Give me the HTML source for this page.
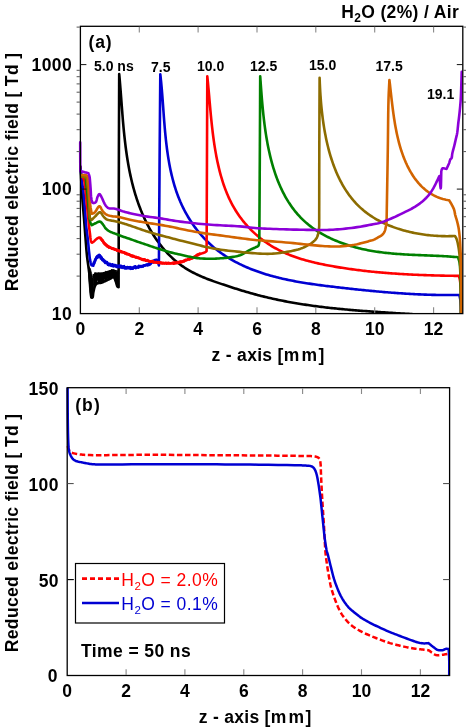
<!DOCTYPE html><html><head><meta charset="utf-8"><style>html,body{margin:0;padding:0;background:#fff;overflow:hidden}svg{display:block}text{font-family:"Liberation Sans",sans-serif;}</style></head><body>
<svg style="filter:blur(0.35px)" width="466" height="727" viewBox="0 0 466 727">
<rect width="466" height="727" fill="#fff"/>
<defs><clipPath id="ct"><rect x="77.4" y="26.3" width="385.4" height="287.3"/></clipPath><clipPath id="cb"><rect x="64.2" y="387.7" width="385.40000000000003" height="287.8"/></clipPath></defs>
<g clip-path="url(#ct)">
<path d="M80.50,166.50L80.66,169.59L80.83,172.70L80.99,175.80L81.16,178.89L81.32,181.96L81.50,185.00L81.67,187.88L81.84,190.73L82.02,193.56L82.20,196.38L82.40,199.19L82.60,202.00L82.82,204.75L83.04,207.47L83.28,210.18L83.52,212.91L83.76,215.67L84.00,218.50L84.25,221.66L84.50,224.91L84.75,228.20L85.00,231.50L85.25,234.78L85.50,238.00L85.74,241.08L85.98,244.19L86.22,247.28L86.46,250.30L86.72,253.22L87.00,256.00L87.25,258.17L87.52,260.27L87.80,262.31L88.08,264.27L88.35,266.17L88.60,268.00L88.79,269.42L88.96,270.76L89.13,272.05L89.30,273.33L89.45,274.64L89.60,276.00L89.75,277.56L89.89,279.16L90.02,280.78L90.14,282.43L90.27,284.10L90.40,285.80L90.55,287.69L90.70,289.62L90.85,291.59L91.00,293.56L91.15,295.54L91.30,297.50L91.49,297.53L91.68,297.59L91.88,297.65L92.06,297.68L92.24,297.67L92.40,297.60L92.68,297.14L92.86,296.35L92.99,295.33L93.10,294.19L93.22,293.05L93.40,292.00L93.64,290.89L93.90,289.71L94.18,288.51L94.48,287.37L94.82,286.34L95.20,285.50L95.44,285.08L95.68,284.71L95.94,284.38L96.22,284.10L96.53,283.84L96.90,283.60L97.48,283.35L98.16,283.19L98.91,283.08L99.69,282.99L100.46,282.87L101.20,282.70L101.92,282.47L102.64,282.20L103.36,281.92L104.08,281.62L104.79,281.31L105.50,281.00L106.22,280.67L106.95,280.32L107.67,279.96L108.39,279.59L109.10,279.24L109.80,278.90L110.46,278.54L111.14,278.11L111.82,277.69L112.47,277.35L113.07,277.16L113.60,277.20L114.09,277.54L114.50,278.14L114.86,278.92L115.18,279.79L115.49,280.68L115.80,281.50L116.11,282.38L116.38,283.35L116.64,284.34L116.90,285.26L117.18,286.04L117.50,286.60L117.67,286.77L117.85,286.89L118.04,286.98L118.23,287.04L118.41,287.11L118.60,287.20L118.65,263.87L118.70,239.98L118.74,216.09L118.79,192.75L118.84,170.54L118.90,150.00L118.95,136.04L119.00,123.02L119.05,110.61L119.10,98.51L119.15,86.41L119.20,74.00L119.33,75.46L119.47,76.93L119.60,78.39L119.72,79.86L119.85,81.34L119.97,82.81L120.10,84.29L120.22,85.77L120.33,87.25L120.45,88.73L120.57,90.22L120.68,91.71L120.80,93.20L120.91,94.69L121.02,96.18L121.14,97.68L121.25,99.18L121.36,100.68L121.48,102.18L121.59,103.68L121.70,105.18L121.82,106.68L121.93,108.19L122.05,109.70L122.17,111.20L122.29,112.71L122.40,114.22L122.53,115.73L122.65,117.24L122.77,118.75L122.90,120.27L123.03,121.78L123.16,123.29L123.30,124.80L123.43,126.32L123.57,127.83L123.72,129.34L123.86,130.86L124.01,132.37L124.17,133.88L124.32,135.39L124.48,136.91L124.65,138.42L124.82,139.93L124.99,141.44L125.17,142.95L125.35,144.46L125.54,145.97L125.73,147.48L125.93,148.99L126.13,150.49L126.34,152.00L126.55,153.50L126.77,155.00L126.99,156.50L127.23,158.00L127.46,159.50L127.71,161.00L127.96,162.49L128.21,163.99L128.48,165.48L128.75,166.97L129.03,168.45L129.31,169.94L129.61,171.42L129.91,172.90L130.22,174.38L130.53,175.86L130.86,177.33L131.19,178.80L131.53,180.27L131.88,181.74L132.24,183.20L132.61,184.66L132.99,186.12L133.37,187.57L133.77,189.02L134.17,190.47L134.59,191.92L135.02,193.36L135.45,194.80L135.90,196.23L136.35,197.66L136.82,199.09L137.30,200.52L137.78,201.94L138.28,203.35L138.79,204.77L139.32,206.17L139.85,207.58L140.39,208.98L140.95,210.37L141.52,211.77L142.10,213.15L142.70,214.53L143.30,215.91L143.92,217.28L144.55,218.65L145.19,220.01L145.85,221.36L146.51,222.70L147.19,224.04L147.89,225.37L148.59,226.70L149.31,228.01L150.04,229.32L150.79,230.62L151.55,231.91L152.32,233.19L153.10,234.46L153.90,235.72L154.71,236.97L155.54,238.21L156.37,239.44L157.23,240.66L158.09,241.87L158.97,243.07L159.86,244.25L160.77,245.42L161.69,246.58L162.63,247.73L163.58,248.86L164.54,249.98L165.52,251.09L166.51,252.18L167.52,253.26L168.54,254.33L169.58,255.37L170.63,256.41L171.69,257.43L172.77,258.43L173.87,259.41L174.98,260.38L176.10,261.34L177.24,262.27L178.40,263.19L179.57,264.09L180.75,264.97L181.95,265.84L183.17,266.68L184.40,267.51L185.65,268.32L186.91,269.11L188.19,269.88L189.49,270.63L190.80,271.36L192.12,272.07L193.45,272.77L194.80,273.45L196.16,274.12L197.53,274.77L198.91,275.40L200.30,276.02L201.70,276.63L203.11,277.23L204.52,277.81L205.94,278.39L207.37,278.95L208.81,279.50L210.25,280.04L211.70,280.58L213.14,281.10L214.60,281.62L216.05,282.13L217.51,282.64L218.97,283.14L220.43,283.63L221.89,284.12L223.35,284.60L224.81,285.09L226.27,285.57L227.72,286.04L229.18,286.52L230.63,286.99L232.08,287.46L233.53,287.92L234.98,288.39L236.42,288.85L237.87,289.30L239.31,289.75L240.76,290.20L242.20,290.64L243.65,291.08L245.09,291.51L246.54,291.94L247.98,292.36L249.42,292.78L250.87,293.19L252.32,293.59L253.76,293.99L255.21,294.38L256.66,294.77L258.11,295.15L259.56,295.53L261.01,295.90L262.46,296.26L263.91,296.62L265.37,296.97L266.82,297.32L268.28,297.66L269.73,298.00L271.19,298.33L272.65,298.66L274.11,298.98L275.57,299.30L277.03,299.61L278.49,299.92L279.95,300.22L281.41,300.52L282.88,300.81L284.35,301.10L285.81,301.38L287.28,301.66L288.75,301.93L290.22,302.20L291.69,302.46L293.16,302.72L294.63,302.98L296.11,303.23L297.58,303.47L299.06,303.72L300.54,303.95L302.02,304.19L303.50,304.42L304.98,304.64L306.46,304.87L307.95,305.08L309.43,305.30L310.92,305.51L312.40,305.72L313.89,305.92L315.38,306.12L316.87,306.31L318.36,306.51L319.85,306.69L321.34,306.88L322.84,307.06L324.33,307.24L325.82,307.42L327.32,307.59L328.82,307.76L330.31,307.93L331.81,308.09L333.31,308.25L334.81,308.41L336.31,308.56L337.81,308.71L339.31,308.86L340.81,309.01L342.31,309.16L343.81,309.30L345.32,309.44L346.82,309.58L348.33,309.71L349.83,309.84L351.33,309.97L352.84,310.10L354.35,310.23L355.85,310.35L357.36,310.48L358.86,310.60L360.37,310.72L361.88,310.83L363.38,310.95L364.89,311.06L366.40,311.17L367.91,311.29L369.42,311.39L370.92,311.50L372.43,311.61L373.94,311.71L375.45,311.82L376.96,311.92L378.46,312.02L379.97,312.12L381.48,312.22L382.99,312.32L384.50,312.42L386.00,312.52L387.51,312.61L389.02,312.71L390.53,312.81L392.03,312.90L393.54,312.99L395.05,313.09L396.55,313.18L398.06,313.28L399.56,313.37L401.07,313.46L402.57,313.55L404.08,313.65L405.58,313.74L407.09,313.83L408.59,313.92L410.09,314.02L411.59,314.11L413.09,314.20L414.60,314.30L416.10,314.39L417.60,314.48L419.09,314.58L420.59,314.68L422.09,314.77L423.59,314.87L425.08,314.97L426.58,315.07L428.07,315.16L429.57,315.27L431.06,315.37L432.55,315.47L434.04,315.57L435.53,315.68L437.02,315.78L438.51,315.89L440.00,316.00" fill="none" stroke="#000" stroke-width="2.6" stroke-linejoin="round" stroke-linecap="round" />
<path d="M93.40,273.95L94.16,284.32L94.81,272.93L95.32,284.93L95.86,273.19L96.41,283.20L97.29,273.41L98.18,281.93L98.79,272.80L99.42,283.09L100.15,273.37L100.87,283.09L101.45,273.28L102.08,281.96L102.70,273.28L103.29,281.40L104.14,272.77L105.04,280.92L105.84,271.46L106.35,279.55L107.08,272.09L107.86,279.08L108.54,271.59L109.23,279.46L110.01,270.88L110.84,277.60L111.61,269.70L112.18,277.34L112.99,269.58L113.64,277.66L114.32,270.33L115.15,280.41L115.81,270.55L116.70,284.97L117.29,270.94L118.03,287.19" fill="none" stroke="#000" stroke-width="1.3" stroke-linejoin="round"/>
<polygon points="93.5,273.5 95.3,272.6 99.0,272.6 102.6,272.2 106.0,271.2 109.9,270.0 113.5,269.3 115.7,270.0 118.3,271.0 94.0,277.0 96.0,276.4 100.0,276.3 104.0,275.6 108.0,274.4 112.0,273.4 116.0,273.9 118.3,278.0" fill="#000"/>
<polygon points="88.4,266.0 90.3,268.5 91.6,273.5 92.7,277.2 93.6,280.0 94.0,284.5 93.4,290.0 92.6,297.8 90.6,297.9 89.8,292.0 89.2,285.0 88.6,277.0" fill="#000" stroke="#000" stroke-width="0.8" stroke-linejoin="round"/>
<path d="M80.80,170.00L80.96,171.65L81.12,173.29L81.27,174.92L81.43,176.57L81.61,178.26L81.80,180.00L82.05,182.05L82.34,184.14L82.64,186.28L82.94,188.47L83.23,190.71L83.50,193.00L83.78,195.71L84.04,198.51L84.30,201.39L84.54,204.29L84.77,207.17L85.00,210.00L85.21,212.71L85.40,215.41L85.58,218.10L85.76,220.77L85.97,223.40L86.20,226.00L86.46,228.40L86.74,230.76L87.04,233.09L87.34,235.41L87.63,237.71L87.90,240.00L88.13,242.23L88.35,244.48L88.56,246.73L88.77,248.92L88.98,251.02L89.20,253.00L89.37,254.48L89.53,255.91L89.69,257.28L89.87,258.60L90.06,259.84L90.30,261.00L90.49,261.87L90.68,262.77L90.89,263.63L91.12,264.39L91.39,264.96L91.70,265.30L91.90,265.37L92.12,265.38L92.34,265.34L92.57,265.26L92.79,265.14L93.00,265.00L93.29,264.69L93.54,264.25L93.77,263.73L93.99,263.15L94.23,262.57L94.50,262.00L94.86,261.29L95.23,260.51L95.62,259.71L96.03,258.93L96.45,258.22L96.90,257.60L97.26,257.16L97.64,256.72L98.04,256.31L98.43,255.98L98.82,255.76L99.20,255.70L99.59,255.85L99.97,256.21L100.34,256.69L100.71,257.25L101.10,257.80L101.50,258.30L101.97,258.80L102.47,259.32L102.98,259.84L103.49,260.36L104.00,260.85L104.50,261.30L104.92,261.66L105.32,262.00L105.73,262.32L106.14,262.63L106.56,262.92L107.00,263.20L107.47,263.47L107.95,263.73L108.44,263.97L108.94,264.20L109.46,264.41L110.00,264.60L110.62,264.79L111.25,264.96L111.91,265.10L112.59,265.24L113.28,265.37L114.00,265.50L114.90,265.66L115.84,265.81L116.82,265.96L117.80,266.10L118.77,266.25L119.70,266.40L120.52,266.55L121.33,266.71L122.13,266.86L122.91,267.02L123.70,267.17L124.50,267.30L125.30,267.43L126.10,267.55L126.90,267.67L127.70,267.77L128.50,267.85L129.30,267.90L130.09,267.92L130.88,267.91L131.68,267.88L132.46,267.84L133.24,267.78L134.00,267.70L134.68,267.62L135.33,267.52L135.97,267.41L136.62,267.29L137.29,267.15L138.00,267.00L138.93,266.80L139.92,266.57L140.93,266.32L141.96,266.06L142.99,265.79L144.00,265.50L145.02,265.20L146.07,264.90L147.11,264.58L148.13,264.24L149.10,263.88L150.00,263.50L150.67,263.15L151.31,262.75L151.91,262.34L152.48,261.94L153.05,261.59L153.60,261.30L154.03,261.11L154.45,260.94L154.86,260.80L155.26,260.68L155.64,260.61L156.00,260.60L156.28,260.62L156.55,260.67L156.80,260.74L157.05,260.85L157.28,261.00L157.50,261.20L157.81,261.67L158.07,262.30L158.28,263.05L158.48,263.85L158.68,264.65L158.90,265.40L159.02,247.71L159.13,229.86L159.24,212.02L159.36,194.33L159.48,176.94L159.60,160.00L159.71,145.20L159.83,130.78L159.95,116.60L160.06,102.54L160.18,88.48L160.30,74.30L160.46,75.72L160.62,77.15L160.78,78.58L160.93,80.02L161.07,81.46L161.22,82.91L161.35,84.36L161.49,85.82L161.62,87.29L161.75,88.75L161.87,90.23L161.99,91.70L162.11,93.18L162.23,94.67L162.35,96.16L162.46,97.65L162.58,99.15L162.69,100.65L162.80,102.15L162.91,103.65L163.02,105.16L163.13,106.67L163.24,108.19L163.35,109.70L163.46,111.22L163.57,112.74L163.68,114.27L163.79,115.79L163.91,117.32L164.02,118.85L164.14,120.38L164.26,121.91L164.39,123.44L164.51,124.97L164.64,126.51L164.77,128.04L164.91,129.57L165.04,131.11L165.19,132.65L165.33,134.18L165.48,135.72L165.64,137.25L165.80,138.79L165.96,140.32L166.13,141.85L166.31,143.38L166.49,144.92L166.67,146.45L166.87,147.97L167.07,149.50L167.27,151.03L167.49,152.55L167.71,154.07L167.93,155.59L168.17,157.11L168.41,158.63L168.66,160.14L168.92,161.65L169.19,163.16L169.47,164.66L169.76,166.16L170.05,167.66L170.36,169.15L170.67,170.64L170.99,172.13L171.33,173.61L171.67,175.09L172.03,176.56L172.40,178.03L172.77,179.50L173.16,180.96L173.56,182.41L173.98,183.86L174.40,185.31L174.84,186.75L175.29,188.18L175.75,189.61L176.23,191.04L176.72,192.45L177.22,193.87L177.74,195.27L178.27,196.67L178.81,198.06L179.37,199.45L179.95,200.82L180.53,202.20L181.14,203.56L181.76,204.92L182.39,206.27L183.04,207.61L183.70,208.94L184.38,210.27L185.08,211.58L185.78,212.89L186.51,214.19L187.24,215.48L188.00,216.77L188.76,218.04L189.54,219.30L190.34,220.55L191.15,221.80L191.97,223.03L192.81,224.25L193.66,225.46L194.52,226.67L195.40,227.86L196.30,229.04L197.20,230.20L198.13,231.36L199.06,232.51L200.01,233.64L200.97,234.76L201.95,235.87L202.94,236.97L203.94,238.05L204.96,239.12L205.99,240.18L207.03,241.22L208.09,242.25L209.16,243.27L210.24,244.27L211.33,245.26L212.44,246.24L213.57,247.20L214.70,248.15L215.85,249.08L217.01,249.99L218.18,250.90L219.37,251.78L220.56,252.65L221.77,253.51L222.99,254.35L224.22,255.18L225.47,256.00L226.72,256.80L227.98,257.59L229.25,258.36L230.54,259.12L231.83,259.86L233.13,260.59L234.44,261.31L235.76,262.02L237.08,262.71L238.42,263.39L239.76,264.05L241.11,264.70L242.46,265.34L243.83,265.97L245.20,266.59L246.57,267.19L247.95,267.78L249.34,268.36L250.73,268.92L252.13,269.47L253.53,270.02L254.94,270.55L256.35,271.06L257.77,271.57L259.19,272.07L260.62,272.55L262.04,273.03L263.48,273.49L264.92,273.94L266.36,274.39L267.80,274.82L269.25,275.24L270.71,275.66L272.16,276.06L273.62,276.46L275.09,276.84L276.55,277.22L278.02,277.59L279.50,277.95L280.97,278.30L282.45,278.65L283.93,278.98L285.41,279.31L286.90,279.63L288.39,279.94L289.88,280.25L291.37,280.55L292.87,280.84L294.36,281.13L295.86,281.41L297.36,281.68L298.86,281.94L300.36,282.21L301.87,282.46L303.37,282.71L304.88,282.95L306.39,283.19L307.90,283.43L309.41,283.66L310.92,283.88L312.43,284.10L313.94,284.32L315.45,284.53L316.97,284.74L318.48,284.94L319.99,285.14L321.50,285.34L323.01,285.54L324.53,285.73L326.04,285.92L327.55,286.11L329.06,286.29L330.57,286.47L332.08,286.65L333.59,286.83L335.10,287.01L336.60,287.18L338.11,287.36L339.61,287.53L341.11,287.70L342.62,287.87L344.12,288.04L345.61,288.21L347.11,288.38L348.61,288.54L350.10,288.71L351.60,288.87L353.09,289.04L354.59,289.20L356.08,289.36L357.57,289.51L359.06,289.67L360.55,289.83L362.04,289.98L363.53,290.13L365.02,290.28L366.50,290.43L367.99,290.58L369.48,290.72L370.96,290.87L372.45,291.01L373.93,291.15L375.42,291.29L376.90,291.42L378.39,291.56L379.87,291.69L381.35,291.82L382.84,291.95L384.32,292.08L385.81,292.20L387.29,292.32L388.77,292.44L390.26,292.56L391.74,292.68L393.23,292.79L394.71,292.90L396.20,293.01L397.68,293.12L399.17,293.22L400.65,293.32L402.14,293.42L403.63,293.52L405.12,293.61L406.60,293.70L408.09,293.79L409.58,293.88L411.07,293.96L412.56,294.04L414.06,294.12L415.55,294.19L417.04,294.27L418.54,294.34L420.03,294.40L421.53,294.47L423.03,294.53L424.53,294.58L426.03,294.64L427.53,294.69L429.03,294.74L430.53,294.78L432.04,294.83L433.54,294.86L435.05,294.90L436.56,294.93L438.07,294.96L439.58,294.99L441.10,295.01L442.61,295.03L444.13,295.04L445.65,295.05L447.17,295.06L448.69,295.07L450.21,295.07L451.74,295.07L453.27,295.06L454.80,295.05L456.33,295.04L457.86,295.02L459.40,295.00L459.61,296.11L459.82,297.16L460.04,298.20L460.24,299.31L460.43,300.56L460.60,302.00L460.85,305.58L461.00,309.94L461.09,314.83L461.15,319.97L461.21,325.12L461.30,330.00" fill="none" stroke="#0000d2" stroke-width="2.6" stroke-linejoin="round" stroke-linecap="round" />
<path d="M93.00,264.71L93.15,265.01L93.29,265.68L93.41,264.90L93.54,264.28L93.65,264.26L93.77,264.11L93.88,262.46L93.99,264.03L94.11,263.48L94.23,263.39L94.36,262.93L94.50,261.76L94.68,261.43L94.86,260.42L95.04,261.20L95.23,259.55L95.42,259.16L95.62,259.07L95.82,258.58L96.03,258.58L96.24,257.58L96.45,257.12L96.68,257.13L96.90,256.72L97.08,257.08L97.26,256.12L97.45,257.76L97.64,256.97L97.84,255.73L98.04,255.76L98.23,255.80L98.43,255.68L98.63,255.02L98.82,256.53L99.01,256.79L99.20,255.63L99.40,255.71L99.59,254.94L99.78,255.13L99.97,255.86L100.15,255.92L100.34,257.42L100.52,256.22L100.71,256.20L100.90,258.52L101.10,257.87L101.30,257.29L101.50,258.39L101.73,257.51L101.97,258.86L102.22,260.11L102.47,260.12L102.72,260.02L102.98,259.32L103.23,259.81L103.49,259.63L103.75,261.21L104.00,260.92L104.25,261.69L104.50,260.93L104.71,260.87L104.92,262.34L105.12,262.90L105.32,262.78L105.53,262.84L105.73,263.02L105.93,263.01L106.14,262.03L106.35,262.82L106.56,262.60L106.78,262.03L107.00,262.16L107.23,262.85L107.47,262.94L107.71,264.03L107.95,264.73L108.19,263.74L108.44,264.93L108.69,265.16L108.94,265.20L109.20,264.00L109.46,263.79L109.73,263.90L110.00,263.93L110.31,264.05L110.62,265.06L110.93,265.76L111.25,265.71L111.58,264.99L111.91,265.44L112.25,265.83L112.59,264.32L112.93,265.65L113.28,266.27L113.64,266.05L114.00,266.05L114.44,265.53L114.90,264.95L115.36,266.37L115.84,265.44L116.33,266.55L116.82,266.99L117.31,265.80L117.80,265.88L118.29,267.16L118.77,266.74L119.24,265.60L119.70,265.58L120.11,265.71L120.52,267.44L120.93,267.30L121.33,265.93L121.73,267.50L122.13,267.92L122.52,267.29L122.91,266.69L123.31,267.20L123.70,266.35L124.10,266.17L124.50,268.34L124.90,267.69L125.30,267.48L125.70,268.44L126.10,267.41L126.50,268.43L126.90,268.39L127.30,267.09L127.70,267.22L128.10,267.36L128.50,267.28L128.90,268.07L129.30,267.37L129.69,267.73L130.09,267.11L130.49,268.82L130.88,267.59L131.28,267.81L131.68,268.07L132.07,268.75L132.46,267.66L132.85,268.73L133.24,267.78L133.62,267.81L134.00,267.75L134.34,266.60L134.68,267.49L135.01,266.87L135.33,266.43L135.65,268.12L135.97,266.69L136.30,267.29L136.62,267.78L136.95,267.34L137.29,266.77L137.64,267.12L138.00,267.12L138.46,267.53L138.93,265.93L139.42,266.82L139.92,266.02L140.42,265.96L140.93,266.92L141.45,266.21L141.96,266.20L142.48,266.50L142.99,266.69L143.50,265.52L144.00,265.75L144.51,265.36L145.02,265.23L145.55,265.48L146.07,264.79L146.59,264.81L147.11,264.53L147.63,265.38L148.13,264.68L148.62,264.89L149.10,264.86L149.56,263.17L150.00,263.63L150.34,264.31L150.67,263.89L150.99,262.15L151.31,261.92L151.61,262.42L151.91,261.40L152.20,261.57L152.48,261.01L152.77,262.13L153.05,262.21L153.32,262.31L153.60,260.54L153.81,261.68L154.03,261.47L154.24,260.24L154.45,261.79L154.65,261.89L154.86,260.18L155.06,261.73L155.26,260.46L155.45,260.61L155.64,261.69L155.82,261.33L156.00,259.86L156.14,260.46L156.28,260.66L156.41,260.29L156.55,260.00L156.68,260.30L156.80,261.23L156.93,259.74" fill="none" stroke="#0000d2" stroke-width="2.6" stroke-linejoin="round" stroke-linecap="round"/>
<path d="M81.50,175.40L81.93,176.11L82.38,176.78L82.82,177.46L83.26,178.17L83.65,178.94L84.00,179.80L84.39,181.21L84.69,182.80L84.92,184.51L85.12,186.31L85.30,188.15L85.50,190.00L85.74,192.22L85.97,194.56L86.18,196.97L86.38,199.38L86.59,201.74L86.80,204.00L87.00,205.91L87.20,207.77L87.41,209.59L87.61,211.39L87.81,213.18L88.00,215.00L88.18,216.84L88.34,218.70L88.50,220.55L88.66,222.39L88.83,224.18L89.00,225.90L89.16,227.33L89.33,228.74L89.50,230.10L89.67,231.44L89.84,232.73L90.00,234.00L90.13,235.08L90.24,236.16L90.35,237.22L90.48,238.22L90.62,239.16L90.80,240.00L90.93,240.55L91.06,241.10L91.20,241.62L91.37,242.07L91.56,242.41L91.80,242.60L92.03,242.63L92.30,242.56L92.58,242.42L92.88,242.23L93.19,242.02L93.50,241.80L93.96,241.43L94.45,240.96L94.95,240.44L95.47,239.91L95.98,239.42L96.50,239.00L96.95,238.67L97.40,238.34L97.86,238.03L98.31,237.78L98.76,237.63L99.20,237.60L99.65,237.74L100.10,238.02L100.53,238.41L100.96,238.86L101.38,239.34L101.80,239.80L102.26,240.36L102.70,240.97L103.13,241.63L103.57,242.29L104.02,242.92L104.50,243.50L104.99,244.01L105.50,244.50L106.03,244.97L106.56,245.41L107.09,245.82L107.60,246.20L108.00,246.48L108.38,246.73L108.76,246.95L109.15,247.17L109.56,247.38L110.00,247.60L110.59,247.88L111.22,248.15L111.88,248.41L112.57,248.68L113.28,248.94L114.00,249.20L114.89,249.50L115.84,249.80L116.82,250.09L117.80,250.38L118.77,250.69L119.70,251.00L120.53,251.30L121.34,251.62L122.13,251.94L122.92,252.26L123.71,252.58L124.50,252.90L125.30,253.22L126.09,253.53L126.89,253.85L127.69,254.16L128.49,254.48L129.30,254.80L130.15,255.13L131.01,255.47L131.87,255.81L132.74,256.15L133.62,256.48L134.50,256.80L135.41,257.12L136.33,257.43L137.25,257.74L138.18,258.03L139.09,258.32L140.00,258.60L140.84,258.85L141.68,259.10L142.51,259.33L143.34,259.56L144.17,259.78L145.00,260.00L145.83,260.21L146.66,260.42L147.50,260.62L148.33,260.82L149.17,261.01L150.00,261.20L150.83,261.38L151.66,261.56L152.50,261.74L153.33,261.90L154.16,262.06L155.00,262.20L155.83,262.33L156.66,262.44L157.50,262.54L158.33,262.63L159.17,262.72L160.00,262.80L160.83,262.88L161.65,262.96L162.48,263.03L163.31,263.10L164.15,263.15L165.00,263.20L165.93,263.24L166.88,263.28L167.84,263.31L168.80,263.33L169.76,263.32L170.70,263.30L171.61,263.26L172.51,263.20L173.41,263.12L174.31,263.03L175.20,262.92L176.10,262.80L177.00,262.66L177.89,262.51L178.78,262.33L179.67,262.15L180.58,261.93L181.50,261.70L182.54,261.41L183.60,261.09L184.68,260.74L185.76,260.38L186.83,259.99L187.90,259.60L188.99,259.19L190.09,258.75L191.20,258.30L192.28,257.84L193.32,257.37L194.30,256.90L195.07,256.48L195.80,256.04L196.50,255.59L197.19,255.15L197.88,254.75L198.60,254.40L199.32,254.12L200.06,253.89L200.80,253.69L201.54,253.50L202.24,253.31L202.90,253.10L203.41,252.92L203.91,252.75L204.39,252.58L204.84,252.40L205.24,252.21L205.60,252.00L205.81,251.84L205.99,251.68L206.15,251.51L206.29,251.34L206.44,251.17L206.60,251.00L206.67,233.98L206.74,216.75L206.80,199.51L206.87,182.49L206.94,165.91L207.00,150.00L207.05,137.05L207.10,124.57L207.15,112.43L207.20,100.44L207.25,88.45L207.30,76.30L207.45,77.75L207.60,79.21L207.74,80.67L207.89,82.13L208.03,83.59L208.16,85.06L208.30,86.53L208.44,88.00L208.57,89.48L208.70,90.96L208.83,92.44L208.97,93.92L209.10,95.40L209.23,96.89L209.35,98.38L209.48,99.87L209.61,101.36L209.75,102.86L209.88,104.35L210.01,105.85L210.14,107.35L210.28,108.85L210.41,110.35L210.55,111.86L210.69,113.36L210.83,114.87L210.98,116.37L211.12,117.88L211.27,119.39L211.43,120.90L211.58,122.41L211.74,123.92L211.90,125.43L212.07,126.94L212.24,128.46L212.42,129.97L212.60,131.48L212.78,132.99L212.97,134.51L213.16,136.02L213.36,137.53L213.57,139.04L213.78,140.56L214.00,142.07L214.22,143.58L214.45,145.09L214.69,146.60L214.93,148.11L215.18,149.62L215.44,151.13L215.70,152.63L215.97,154.14L216.25,155.64L216.54,157.15L216.84,158.65L217.14,160.15L217.45,161.65L217.78,163.15L218.11,164.64L218.45,166.14L218.80,167.63L219.16,169.12L219.53,170.60L219.91,172.08L220.30,173.56L220.71,175.04L221.12,176.51L221.55,177.98L221.99,179.44L222.44,180.89L222.90,182.34L223.37,183.79L223.86,185.23L224.36,186.66L224.88,188.09L225.41,189.50L225.95,190.91L226.51,192.32L227.08,193.71L227.67,195.10L228.27,196.48L228.89,197.85L229.52,199.21L230.17,200.56L230.84,201.90L231.52,203.23L232.22,204.56L232.94,205.87L233.67,207.16L234.42,208.45L235.19,209.73L235.97,210.99L236.78,212.25L237.60,213.49L238.43,214.72L239.28,215.93L240.15,217.14L241.03,218.33L241.93,219.51L242.85,220.68L243.78,221.83L244.73,222.97L245.69,224.10L246.66,225.21L247.65,226.31L248.66,227.40L249.68,228.47L250.71,229.53L251.76,230.58L252.82,231.61L253.90,232.62L254.99,233.62L256.09,234.61L257.21,235.58L258.34,236.54L259.48,237.48L260.64,238.40L261.81,239.31L262.99,240.21L264.18,241.09L265.39,241.95L266.60,242.80L267.83,243.63L269.07,244.44L270.33,245.24L271.59,246.02L272.86,246.78L274.15,247.52L275.45,248.25L276.75,248.96L278.07,249.66L279.40,250.33L280.73,251.00L282.08,251.64L283.44,252.27L284.80,252.88L286.17,253.48L287.56,254.07L288.95,254.63L290.34,255.19L291.75,255.73L293.16,256.26L294.58,256.77L296.01,257.27L297.44,257.76L298.88,258.23L300.33,258.69L301.78,259.14L303.24,259.58L304.70,260.01L306.16,260.42L307.64,260.83L309.11,261.22L310.59,261.61L312.07,261.98L313.56,262.35L315.05,262.70L316.55,263.05L318.04,263.39L319.54,263.72L321.04,264.04L322.54,264.35L324.05,264.65L325.55,264.95L327.06,265.24L328.57,265.53L330.07,265.81L331.58,266.08L333.09,266.34L334.60,266.60L336.11,266.86L337.61,267.11L339.12,267.36L340.62,267.60L342.13,267.83L343.63,268.07L345.13,268.29L346.63,268.52L348.13,268.73L349.63,268.95L351.13,269.16L352.63,269.36L354.12,269.56L355.62,269.76L357.12,269.95L358.61,270.14L360.11,270.33L361.60,270.51L363.09,270.69L364.59,270.86L366.08,271.03L367.57,271.19L369.06,271.35L370.55,271.51L372.04,271.67L373.53,271.82L375.02,271.96L376.51,272.11L378.00,272.25L379.49,272.38L380.98,272.52L382.47,272.65L383.96,272.77L385.45,272.90L386.94,273.02L388.43,273.13L389.92,273.25L391.41,273.36L392.89,273.46L394.38,273.57L395.87,273.67L397.36,273.77L398.85,273.86L400.34,273.96L401.83,274.05L403.32,274.14L404.82,274.22L406.31,274.30L407.80,274.38L409.29,274.46L410.78,274.53L412.28,274.61L413.77,274.68L415.27,274.74L416.76,274.81L418.26,274.87L419.75,274.93L421.25,274.99L422.75,275.05L424.25,275.10L425.75,275.16L427.25,275.21L428.75,275.26L430.25,275.30L431.75,275.35L433.26,275.39L434.76,275.43L436.27,275.47L437.77,275.51L439.28,275.55L440.79,275.58L442.30,275.62L443.81,275.65L445.33,275.68L446.84,275.71L448.36,275.74L449.87,275.76L451.39,275.79L452.91,275.81L454.43,275.84L455.95,275.86L457.48,275.88L459.00,275.90L459.22,277.01L459.45,278.03L459.69,279.05L459.91,280.16L460.12,281.45L460.30,283.00L460.63,288.43L460.81,295.59L460.89,303.91L460.91,312.80L460.93,321.69L461.00,330.00" fill="none" stroke="#ff0000" stroke-width="2.6" stroke-linejoin="round" stroke-linecap="round" />
<path d="M100.10,238.08L100.31,238.13L100.53,237.83L100.75,238.42L100.96,239.01L101.17,239.11L101.38,238.81L101.59,240.15L101.80,240.15L102.03,240.63L102.26,239.88L102.49,240.38L102.70,240.42L102.92,241.63L103.13,241.35L103.35,241.51L103.57,242.19L103.79,243.10L104.02,243.30L104.26,242.93L104.50,243.08L104.74,244.26L104.99,244.09L105.24,244.50L105.50,244.01L105.76,244.20L106.03,245.19L106.30,245.10L106.56,244.90L106.83,246.15L107.09,245.98L107.35,246.38L107.60,245.70L107.80,246.77L108.00,245.96L108.19,247.04L108.38,246.67L108.57,246.65L108.76,247.02L108.96,247.57L109.15,246.89L109.35,246.83L109.56,247.41L109.78,247.18L110.00,247.13L110.29,247.33L110.59,247.34L110.90,247.65L111.22,247.92L111.55,248.05L111.88,248.73L112.22,248.29L112.57,248.68L112.92,248.42L113.28,248.76L113.64,248.49L114.00,248.90L114.44,248.77L114.89,249.78L115.36,249.71L115.84,249.42L116.33,249.91L116.82,250.61L117.31,249.76L117.80,250.77L118.29,250.45L118.77,250.68L119.24,251.24L119.70,250.87L120.12,251.16L120.53,251.53L120.93,252.04L121.34,251.43L121.73,252.17L122.13,252.18L122.52,252.26L122.92,252.14L123.31,252.24L123.71,252.05L124.10,252.30L124.50,252.38L124.90,253.35L125.30,252.92L125.70,252.97L126.09,253.03L126.49,254.10L126.89,254.29L127.29,254.21L127.69,253.90L128.09,254.01L128.49,254.23L128.89,254.59L129.30,254.39L129.73,254.90L130.15,254.85L130.58,255.86L131.01,256.04L131.44,255.70L131.87,255.51L132.31,256.54L132.74,255.92L133.18,256.14L133.62,255.88L134.06,256.50L134.50,256.77L134.95,256.96L135.41,256.76L135.87,257.28L136.33,256.84L136.79,257.30L137.25,257.24L137.71,257.77L138.18,257.48L138.64,257.61L139.09,258.09L139.55,258.14L140.00,258.70L140.42,258.76L140.84,259.15L141.26,259.16L141.68,259.36L142.10,259.67L142.51,259.20L142.93,259.24L143.34,260.14L143.75,259.25L144.17,260.05L144.58,260.06L145.00,259.45L145.42,260.51L145.83,260.68L146.25,260.47L146.66,260.70L147.08,260.90L147.50,260.19L147.91,260.75L148.33,260.83L148.75,261.32L149.17,261.38L149.58,261.50L150.00,261.30L150.42,261.76L150.83,261.60L151.25,261.70L151.66,261.24L152.08,261.09L152.50,261.30L152.91,261.65L153.33,261.43L153.75,262.39L154.16,262.13L154.58,262.28L155.00,262.35L155.42,262.48L155.83,262.31L156.25,261.79L156.66,262.79L157.08,262.79L157.50,262.54L157.91,262.63L158.33,262.82L158.75,262.15L159.17,263.00L159.58,262.46L160.00,262.29L160.42,262.56L160.83,263.16L161.24,262.57L161.65,263.25L162.07,263.57L162.48,263.02L162.89,262.92L163.31,263.07L163.73,263.35L164.15,263.47L164.57,263.32L165.00,263.37L165.46,262.72L165.93,262.82L166.40,262.97L166.88,263.57L167.36,263.06L167.84,263.39L168.32,262.73L168.80,262.80L169.28,263.05L169.76,263.53L170.23,263.55L170.70,263.51L171.16,263.03L171.61,263.28L172.06,263.19L172.51,263.16L172.96,262.71L173.41,263.60L173.86,262.72L174.31,263.61L174.76,263.50L175.20,262.35L175.65,262.81L176.10,263.18L176.55,263.29L177.00,262.60L177.44,262.31L177.89,262.16L178.33,262.96L178.78,261.99L179.23,262.34L179.67,261.72L180.13,262.07L180.58,262.48L181.04,261.38L181.50,262.08L182.02,261.57L182.54,261.87L183.07,261.50L183.60,260.77L184.14,261.40L184.68,260.73L185.22,259.99L185.76,259.78L186.30,260.18L186.83,259.93L187.37,259.56L187.90,259.17L188.44,259.21L188.99,258.97L189.54,259.38L190.09,258.15L190.65,258.83L191.20,258.71L191.74,257.62L192.28,258.35L192.80,257.86L193.32,257.85L193.82,256.88L194.30,256.75L194.69,256.57L195.07,257.08L195.44,256.37L195.80,255.87L196.15,255.73L196.50,255.32L196.84,254.83L197.19,254.68L197.53,255.35L197.88,254.49L198.24,255.09L198.60,254.10L198.95,253.97L199.32,254.14L199.68,253.63" fill="none" stroke="#ff0000" stroke-width="2.6" stroke-linejoin="round" stroke-linecap="round"/>
<path d="M81.50,176.00L82.13,176.04L82.78,176.02L83.44,176.01L84.07,176.05L84.63,176.19L85.10,176.50L85.58,177.28L85.86,178.38L86.01,179.70L86.10,181.15L86.17,182.62L86.30,184.00L86.48,185.42L86.65,186.85L86.82,188.30L86.97,189.80L87.13,191.36L87.30,193.00L87.53,195.29L87.75,197.75L87.99,200.31L88.22,202.92L88.46,205.50L88.70,208.00L88.91,210.39L89.09,212.87L89.27,215.34L89.48,217.67L89.75,219.76L90.10,221.50L90.33,222.27L90.59,222.92L90.86,223.51L91.14,224.06L91.43,224.61L91.70,225.20L92.35,224.86L92.99,224.52L93.63,224.17L94.27,223.83L94.93,223.51L95.60,223.20L96.33,222.85L97.09,222.45L97.86,222.07L98.61,221.76L99.34,221.58L100.00,221.60L100.57,221.83L101.09,222.22L101.59,222.73L102.06,223.31L102.53,223.92L103.00,224.50L103.51,225.17L103.99,225.90L104.45,226.67L104.93,227.43L105.44,228.15L106.00,228.80L106.60,229.35L107.23,229.86L107.89,230.34L108.57,230.78L109.28,231.20L110.00,231.60L110.77,231.99L111.57,232.33L112.38,232.64L113.23,232.94L114.10,233.26L115.00,233.60L116.16,234.06L117.38,234.54L118.65,235.04L119.94,235.54L121.23,236.03L122.50,236.50L123.75,236.94L125.00,237.35L126.25,237.76L127.50,238.17L128.75,238.58L130.00,239.00L131.25,239.44L132.50,239.89L133.75,240.35L135.00,240.81L136.25,241.26L137.50,241.70L138.75,242.13L140.00,242.54L141.25,242.96L142.50,243.37L143.75,243.78L145.00,244.20L146.25,244.63L147.50,245.06L148.75,245.50L150.00,245.94L151.25,246.37L152.50,246.80L153.75,247.22L154.99,247.64L156.23,248.05L157.49,248.47L158.77,248.88L160.10,249.30L161.67,249.79L163.30,250.28L164.96,250.78L166.64,251.27L168.33,251.74L170.00,252.20L171.65,252.63L173.29,253.04L174.93,253.43L176.59,253.82L178.28,254.21L180.00,254.60L181.96,255.05L184.00,255.51L186.08,255.98L188.13,256.43L190.12,256.84L192.00,257.20L193.40,257.46L194.71,257.69L195.98,257.90L197.25,258.09L198.57,258.25L200.00,258.40L202.00,258.55L204.15,258.67L206.40,258.75L208.65,258.80L210.84,258.82L212.90,258.80L214.52,258.75L216.07,258.67L217.59,258.57L219.07,258.45L220.54,258.32L222.00,258.20L223.35,258.09L224.68,257.99L225.98,257.88L227.29,257.76L228.63,257.60L230.00,257.40L231.61,257.14L233.27,256.87L234.97,256.56L236.66,256.19L238.35,255.74L240.00,255.20L241.74,254.47L243.50,253.57L245.24,252.59L246.93,251.61L248.53,250.68L250.00,249.90L250.94,249.45L251.83,249.04L252.67,248.67L253.48,248.31L254.25,247.96L255.00,247.60L255.62,247.32L256.24,247.06L256.84,246.81L257.40,246.54L257.89,246.21L258.30,245.80L258.61,245.28L258.81,244.68L258.95,244.02L259.06,243.34L259.16,242.66L259.30,242.00L259.38,228.34L259.47,214.70L259.56,201.05L259.64,187.40L259.72,173.72L259.80,160.00L259.87,146.10L259.94,132.16L260.01,118.20L260.07,104.23L260.13,90.26L260.20,76.30L260.30,77.71L260.40,79.12L260.50,80.54L260.61,81.96L260.71,83.40L260.81,84.84L260.92,86.29L261.03,87.74L261.13,89.20L261.24,90.67L261.36,92.15L261.47,93.63L261.59,95.11L261.71,96.60L261.83,98.10L261.95,99.60L262.08,101.10L262.21,102.61L262.34,104.13L262.48,105.65L262.62,107.17L262.77,108.69L262.92,110.22L263.07,111.75L263.23,113.29L263.39,114.82L263.56,116.36L263.73,117.90L263.91,119.44L264.10,120.99L264.29,122.53L264.48,124.08L264.68,125.63L264.89,127.17L265.10,128.72L265.32,130.27L265.55,131.81L265.78,133.36L266.02,134.91L266.27,136.45L266.53,138.00L266.79,139.54L267.06,141.08L267.34,142.62L267.63,144.16L267.92,145.69L268.23,147.22L268.54,148.75L268.86,150.28L269.20,151.80L269.54,153.32L269.89,154.84L270.24,156.35L270.61,157.85L270.99,159.36L271.38,160.85L271.78,162.35L272.19,163.83L272.62,165.31L273.05,166.79L273.49,168.26L273.95,169.72L274.41,171.18L274.89,172.63L275.38,174.08L275.88,175.51L276.40,176.94L276.92,178.36L277.46,179.78L278.01,181.18L278.58,182.58L279.16,183.97L279.75,185.34L280.35,186.71L280.97,188.08L281.61,189.43L282.25,190.77L282.91,192.10L283.59,193.42L284.28,194.73L284.98,196.03L285.70,197.32L286.44,198.59L287.19,199.86L287.96,201.11L288.74,202.36L289.54,203.58L290.35,204.80L291.18,206.01L292.03,207.20L292.89,208.37L293.77,209.54L294.67,210.69L295.58,211.83L296.51,212.95L297.46,214.06L298.43,215.15L299.42,216.23L300.42,217.29L301.44,218.34L302.48,219.37L303.54,220.39L304.62,221.39L305.71,222.37L306.83,223.34L307.97,224.29L309.12,225.22L310.29,226.14L311.48,227.04L312.69,227.93L313.91,228.79L315.15,229.64L316.41,230.48L317.68,231.30L318.97,232.10L320.27,232.88L321.58,233.65L322.91,234.41L324.24,235.15L325.60,235.87L326.96,236.57L328.33,237.26L329.72,237.94L331.11,238.59L332.51,239.24L333.93,239.86L335.35,240.48L336.78,241.07L338.21,241.65L339.65,242.22L341.10,242.77L342.56,243.30L344.02,243.82L345.48,244.33L346.95,244.81L348.42,245.29L349.90,245.75L351.38,246.19L352.86,246.62L354.34,247.04L355.83,247.44L357.31,247.82L358.80,248.20L360.28,248.55L361.77,248.90L363.26,249.23L364.75,249.55L366.24,249.85L367.73,250.15L369.22,250.43L370.72,250.70L372.21,250.96L373.70,251.21L375.20,251.45L376.70,251.67L378.19,251.89L379.69,252.10L381.19,252.30L382.69,252.49L384.19,252.67L385.69,252.84L387.19,253.00L388.69,253.16L390.19,253.31L391.70,253.45L393.20,253.58L394.70,253.71L396.21,253.83L397.71,253.94L399.22,254.05L400.72,254.16L402.23,254.26L403.74,254.35L405.24,254.44L406.75,254.53L408.26,254.61L409.76,254.69L411.27,254.76L412.78,254.84L414.29,254.90L415.80,254.97L417.30,255.04L418.81,255.10L420.32,255.16L421.83,255.23L423.34,255.29L424.85,255.35L426.36,255.41L427.87,255.47L429.37,255.53L430.88,255.59L432.39,255.65L433.90,255.72L435.41,255.78L436.92,255.85L438.42,255.92L439.93,256.00L441.44,256.07L442.95,256.15L444.45,256.24L445.96,256.32L447.47,256.42L448.97,256.51L450.48,256.61L451.98,256.72L453.49,256.83L454.99,256.95L456.50,257.07L458.00,257.20L458.28,258.12L458.56,258.99L458.85,259.86L459.12,260.78L459.38,261.81L459.60,263.00L459.93,265.75L460.16,268.98L460.31,272.62L460.41,276.56L460.50,280.72L460.60,285.00L460.74,291.58L460.82,298.82L460.88,306.50L460.91,314.41L460.95,322.32L461.00,330.00" fill="none" stroke="#008000" stroke-width="2.6" stroke-linejoin="round" stroke-linecap="round" />
<path d="M81.50,176.50L82.32,176.64L83.20,176.72L84.07,176.79L84.89,176.93L85.62,177.18L86.20,177.60L86.66,178.34L86.92,179.28L87.05,180.39L87.12,181.58L87.18,182.81L87.30,184.00L87.50,185.39L87.70,186.81L87.88,188.28L88.07,189.79L88.24,191.37L88.40,193.00L88.58,195.17L88.74,197.49L88.88,199.90L89.02,202.33L89.16,204.72L89.30,207.00L89.39,209.06L89.43,211.21L89.47,213.32L89.56,215.27L89.75,216.94L90.10,218.20L90.32,218.61L90.58,218.92L90.85,219.18L91.14,219.41L91.42,219.64L91.70,219.90L92.35,219.25L92.99,218.59L93.63,217.94L94.27,217.29L94.93,216.64L95.60,216.00L96.32,215.26L97.07,214.41L97.83,213.57L98.58,212.84L99.31,212.35L100.00,212.20L100.63,212.47L101.23,213.09L101.80,213.93L102.36,214.86L102.93,215.76L103.50,216.50L103.99,217.04L104.47,217.56L104.95,218.06L105.45,218.53L105.96,218.95L106.50,219.30L107.04,219.56L107.59,219.76L108.17,219.91L108.76,220.04L109.37,220.16L110.00,220.30L110.77,220.46L111.56,220.60L112.38,220.73L113.23,220.86L114.10,221.02L115.00,221.20L116.17,221.47L117.39,221.78L118.66,222.11L119.95,222.47L121.24,222.83L122.50,223.20L123.75,223.58L125.01,223.96L126.26,224.36L127.50,224.77L128.75,225.18L130.00,225.60L131.25,226.02L132.50,226.45L133.75,226.89L135.00,227.33L136.25,227.76L137.50,228.20L138.75,228.64L140.00,229.08L141.25,229.52L142.50,229.95L143.75,230.38L145.00,230.80L146.25,231.20L147.49,231.60L148.74,231.98L149.99,232.36L151.24,232.73L152.50,233.10L153.75,233.46L154.99,233.81L156.23,234.15L157.49,234.50L158.77,234.84L160.10,235.20L161.67,235.62L163.30,236.05L164.96,236.49L166.65,236.93L168.33,237.36L170.00,237.80L171.63,238.23L173.23,238.64L174.83,239.06L176.46,239.49L178.17,239.93L180.00,240.40L182.64,241.08L185.51,241.82L188.52,242.59L191.55,243.36L194.51,244.11L197.30,244.80L199.53,245.35L201.67,245.88L203.76,246.39L205.82,246.89L207.89,247.35L210.00,247.80L212.13,248.22L214.25,248.61L216.37,248.98L218.52,249.33L220.73,249.67L223.00,250.00L225.71,250.36L228.53,250.70L231.42,251.02L234.32,251.32L237.20,251.62L240.00,251.90L242.55,252.17L245.07,252.43L247.56,252.68L250.03,252.91L252.51,253.12L255.00,253.30L257.50,253.46L260.00,253.61L262.50,253.74L265.00,253.82L267.50,253.85L270.00,253.80L272.53,253.67L275.09,253.46L277.65,253.20L280.18,252.89L282.64,252.55L285.00,252.20L286.98,251.88L288.94,251.53L290.85,251.16L292.69,250.78L294.41,250.39L296.00,250.00L297.03,249.73L297.99,249.47L298.89,249.20L299.76,248.92L300.62,248.62L301.50,248.30L302.40,247.95L303.29,247.58L304.17,247.19L305.05,246.78L305.93,246.35L306.80,245.90L307.72,245.41L308.65,244.90L309.57,244.37L310.48,243.81L311.36,243.22L312.20,242.60L313.00,241.96L313.79,241.31L314.55,240.62L315.27,239.90L315.92,239.13L316.50,238.30L317.01,237.36L317.44,236.34L317.80,235.27L318.10,234.17L318.37,233.07L318.60,232.00L318.78,231.00L318.90,230.00L318.99,229.00L319.05,228.00L319.12,227.00L319.20,226.00L319.21,213.31L319.23,200.59L319.24,187.88L319.25,175.19L319.27,162.55L319.30,150.00L319.34,137.86L319.39,125.80L319.44,113.78L319.49,101.80L319.55,89.81L319.60,77.80L319.65,79.21L319.71,80.63L319.76,82.05L319.82,83.48L319.89,84.92L319.96,86.37L320.03,87.83L320.11,89.29L320.19,90.76L320.28,92.24L320.38,93.72L320.47,95.21L320.58,96.71L320.69,98.21L320.80,99.71L320.92,101.23L321.05,102.74L321.18,104.26L321.32,105.78L321.47,107.31L321.62,108.84L321.78,110.37L321.95,111.91L322.12,113.44L322.30,114.98L322.49,116.53L322.69,118.07L322.89,119.61L323.10,121.16L323.32,122.71L323.55,124.25L323.79,125.80L324.04,127.35L324.29,128.89L324.56,130.44L324.83,131.98L325.11,133.52L325.41,135.06L325.71,136.60L326.02,138.14L326.34,139.67L326.68,141.20L327.02,142.73L327.37,144.25L327.74,145.77L328.11,147.29L328.50,148.80L328.89,150.31L329.30,151.81L329.72,153.30L330.16,154.79L330.60,156.28L331.06,157.76L331.53,159.23L332.01,160.70L332.50,162.15L333.01,163.60L333.53,165.05L334.06,166.48L334.60,167.91L335.16,169.33L335.74,170.74L336.32,172.14L336.92,173.53L337.54,174.91L338.17,176.28L338.81,177.64L339.47,178.99L340.14,180.33L340.83,181.65L341.53,182.97L342.25,184.27L342.98,185.56L343.73,186.84L344.49,188.11L345.27,189.36L346.07,190.60L346.88,191.83L347.71,193.04L348.56,194.24L349.42,195.42L350.30,196.59L351.20,197.75L352.11,198.88L353.05,200.01L354.00,201.11L354.96,202.20L355.95,203.28L356.95,204.33L357.97,205.37L359.01,206.39L360.07,207.40L361.15,208.38L362.25,209.35L363.36,210.30L364.50,211.23L365.65,212.14L366.82,213.03L368.01,213.91L369.22,214.76L370.44,215.60L371.68,216.42L372.93,217.22L374.21,218.00L375.49,218.76L376.79,219.51L378.11,220.24L379.44,220.95L380.78,221.64L382.13,222.32L383.50,222.98L384.88,223.62L386.27,224.24L387.67,224.85L389.09,225.44L390.51,226.01L391.94,226.57L393.38,227.10L394.83,227.63L396.29,228.13L397.76,228.62L399.23,229.10L400.71,229.55L402.20,229.99L403.70,230.42L405.20,230.83L406.70,231.22L408.21,231.60L409.73,231.96L411.25,232.30L412.77,232.63L414.29,232.95L415.82,233.25L417.35,233.53L418.88,233.80L420.41,234.06L421.95,234.30L423.48,234.52L425.02,234.73L426.55,234.93L428.08,235.11L429.61,235.28L431.14,235.43L432.67,235.57L434.19,235.69L435.71,235.80L437.23,235.90L438.75,235.98L440.25,236.05L441.76,236.10L443.26,236.14L444.75,236.17L446.24,236.19L447.72,236.19L449.19,236.17L450.65,236.15L452.11,236.11L453.56,236.06L455.00,236.00L455.27,236.49L455.55,236.96L455.83,237.44L456.10,237.93L456.36,238.45L456.60,239.00L456.86,239.74L457.10,240.51L457.31,241.33L457.51,242.19L457.71,243.08L457.90,244.00L458.14,245.20L458.38,246.45L458.60,247.76L458.81,249.11L459.01,250.53L459.20,252.00L459.41,253.97L459.60,256.06L459.77,258.24L459.93,260.48L460.07,262.74L460.20,265.00L460.33,267.34L460.44,269.59L460.55,271.88L460.64,274.31L460.72,276.98L460.80,280.00L460.93,286.64L461.02,294.50L461.10,303.17L461.16,312.25L461.23,321.33L461.30,330.00" fill="none" stroke="#8c6c00" stroke-width="2.6" stroke-linejoin="round" stroke-linecap="round" />
<path d="M81.80,174.80L82.77,174.95L83.81,175.05L84.84,175.14L85.81,175.29L86.65,175.56L87.30,176.00L87.70,176.61L87.92,177.36L88.02,178.22L88.07,179.14L88.11,180.08L88.20,181.00L88.35,182.00L88.49,182.99L88.62,184.01L88.75,185.08L88.87,186.23L89.00,187.50L89.18,189.86L89.34,192.60L89.50,195.55L89.66,198.54L89.86,201.41L90.10,204.00L90.33,205.78L90.58,207.46L90.86,209.06L91.14,210.63L91.43,212.20L91.70,213.80L92.17,213.64L92.63,213.51L93.09,213.38L93.56,213.23L94.03,213.01L94.50,212.70L95.31,211.80L96.15,210.48L97.01,208.99L97.85,207.60L98.65,206.59L99.40,206.20L99.96,206.46L100.47,207.10L100.96,207.99L101.45,209.00L101.96,209.98L102.50,210.80L103.03,211.45L103.56,212.09L104.11,212.71L104.69,213.29L105.31,213.82L106.00,214.30L106.87,214.76L107.83,215.14L108.86,215.46L109.91,215.74L110.97,215.98L112.00,216.20L112.99,216.38L113.99,216.49L115.00,216.58L116.00,216.66L117.00,216.76L118.00,216.90L119.00,217.09L120.00,217.31L121.00,217.55L122.00,217.80L123.00,218.05L124.00,218.30L124.99,218.55L125.97,218.80L126.96,219.06L127.95,219.31L128.96,219.56L130.00,219.80L131.20,220.05L132.43,220.29L133.69,220.52L134.97,220.75L136.24,220.98L137.50,221.20L138.72,221.42L139.90,221.63L141.09,221.84L142.31,222.05L143.60,222.27L145.00,222.50L147.25,222.85L149.76,223.23L152.42,223.62L155.11,224.02L157.71,224.42L160.10,224.80L161.85,225.10L163.48,225.38L165.06,225.66L166.63,225.95L168.26,226.26L170.00,226.60L172.30,227.07L174.69,227.59L177.17,228.14L179.72,228.70L182.34,229.26L185.00,229.80L188.18,230.42L191.49,231.05L194.88,231.67L198.30,232.28L201.69,232.86L205.00,233.40L208.06,233.86L211.08,234.27L214.09,234.66L217.07,235.04L220.04,235.41L223.00,235.80L225.87,236.19L228.74,236.58L231.60,236.97L234.43,237.36L237.23,237.73L240.00,238.10L242.59,238.44L245.18,238.79L247.75,239.13L250.26,239.45L252.68,239.74L255.00,240.00L256.73,240.17L258.31,240.30L259.84,240.42L261.41,240.53L263.10,240.65L265.00,240.80L268.55,241.08L272.60,241.39L276.97,241.72L281.46,242.07L285.87,242.44L290.00,242.80L293.50,243.14L296.94,243.50L300.32,243.87L303.63,244.24L306.86,244.58L310.00,244.90L312.64,245.16L315.21,245.41L317.73,245.64L320.19,245.86L322.61,246.05L325.00,246.20L327.08,246.32L329.08,246.42L331.05,246.50L333.03,246.55L335.06,246.55L337.20,246.50L339.96,246.36L342.94,246.14L346.00,245.86L349.00,245.53L351.81,245.17L354.30,244.80L355.78,244.53L357.13,244.24L358.40,243.93L359.62,243.62L360.81,243.31L362.00,243.00L363.06,242.74L364.09,242.47L365.10,242.21L366.10,241.95L367.10,241.68L368.10,241.40L369.10,241.12L370.12,240.85L371.13,240.57L372.12,240.28L373.08,239.96L374.00,239.60L374.79,239.24L375.55,238.85L376.29,238.45L377.00,238.03L377.71,237.61L378.40,237.20L379.04,236.85L379.67,236.50L380.30,236.16L380.90,235.81L381.47,235.43L382.00,235.00L382.47,234.55L382.92,234.08L383.33,233.58L383.72,233.05L384.08,232.49L384.40,231.90L384.72,231.17L385.00,230.40L385.23,229.58L385.43,228.73L385.62,227.87L385.80,227.00L385.98,226.04L386.12,225.05L386.25,224.04L386.36,223.03L386.48,222.01L386.60,221.00L386.80,209.02L387.01,196.87L387.22,184.72L387.43,172.75L387.62,161.11L387.80,150.00L387.92,140.90L388.02,131.85L388.11,123.05L388.21,114.67L388.34,106.93L388.50,100.00L388.63,96.14L388.77,92.67L388.93,89.44L389.09,86.33L389.25,83.23L389.40,80.00L389.57,81.42L389.74,82.84L389.91,84.27L390.08,85.72L390.24,87.17L390.41,88.63L390.57,90.10L390.74,91.57L390.91,93.06L391.07,94.55L391.24,96.04L391.41,97.55L391.58,99.06L391.76,100.57L391.94,102.09L392.12,103.61L392.30,105.14L392.49,106.67L392.69,108.21L392.88,109.75L393.09,111.29L393.30,112.83L393.51,114.37L393.73,115.92L393.96,117.47L394.19,119.02L394.44,120.56L394.69,122.11L394.95,123.66L395.21,125.21L395.49,126.75L395.77,128.30L396.07,129.84L396.38,131.38L396.69,132.91L397.02,134.45L397.36,135.98L397.71,137.50L398.07,139.02L398.44,140.54L398.83,142.05L399.23,143.56L399.65,145.06L400.07,146.55L400.52,148.04L400.97,149.52L401.45,150.99L401.93,152.45L402.44,153.91L402.96,155.35L403.49,156.79L404.05,158.22L404.62,159.64L405.21,161.05L405.81,162.45L406.44,163.83L407.08,165.21L407.75,166.57L408.43,167.92L409.13,169.26L409.86,170.59L410.60,171.90L411.37,173.19L412.16,174.46L412.96,175.72L413.80,176.96L414.65,178.18L415.53,179.38L416.43,180.55L417.35,181.71L418.30,182.84L419.27,183.94L420.26,185.02L421.28,186.07L422.33,187.10L423.40,188.09L424.50,189.06L425.62,189.99L426.77,190.90L427.95,191.77L429.16,192.61L430.39,193.41L431.65,194.18L432.94,194.91L434.26,195.61L435.61,196.27L436.98,196.88L438.39,197.46L439.83,198.00L441.29,198.49L442.79,198.95L444.32,199.35L445.88,199.72L447.48,200.03L449.10,200.30L449.52,200.97L449.94,201.64L450.36,202.30L450.78,202.98L451.19,203.67L451.60,204.40L452.07,205.28L452.54,206.20L453.01,207.14L453.46,208.10L453.86,209.06L454.20,210.00L454.43,210.83L454.61,211.66L454.74,212.48L454.87,213.31L455.01,214.14L455.20,215.00L455.46,215.97L455.76,216.94L456.07,217.93L456.40,218.94L456.71,219.96L457.00,221.00L457.29,222.13L457.58,223.27L457.86,224.43L458.12,225.62L458.37,226.84L458.60,228.10L458.85,229.65L459.08,231.28L459.28,232.96L459.47,234.65L459.64,236.34L459.80,238.00L459.93,239.56L460.05,241.07L460.14,242.58L460.23,244.12L460.31,245.72L460.40,247.40L460.51,249.65L460.63,252.03L460.74,254.51L460.84,257.03L460.93,259.54L461.00,262.00L461.06,264.29L461.10,266.44L461.12,268.59L461.15,270.86L461.17,273.39L461.20,276.30L461.27,283.27L461.33,291.66L461.40,301.01L461.47,310.83L461.53,320.65L461.60,330.00" fill="none" stroke="#d26400" stroke-width="2.6" stroke-linejoin="round" stroke-linecap="round" />
<path d="M80.20,142.40L80.30,171.00L80.91,171.17L81.52,171.33L82.13,171.49L82.74,171.66L83.36,171.83L84.00,172.00L84.71,172.19L85.44,172.39L86.18,172.59L86.92,172.80L87.66,173.00L88.40,173.20L88.59,173.74L88.79,174.27L88.98,174.79L89.17,175.33L89.35,175.90L89.50,176.50L89.65,177.32L89.77,178.18L89.86,179.09L89.94,180.03L90.02,181.01L90.10,182.00L90.21,183.25L90.31,184.57L90.41,185.93L90.51,187.30L90.61,188.67L90.70,190.00L90.77,191.26L90.82,192.53L90.87,193.79L90.93,195.03L91.04,196.24L91.20,197.40L91.37,198.46L91.55,199.58L91.76,200.67L92.02,201.65L92.36,202.42L92.80,202.90L93.20,203.05L93.67,203.08L94.18,203.00L94.70,202.84L95.18,202.60L95.60,202.30L96.08,201.64L96.46,200.70L96.77,199.59L97.06,198.45L97.35,197.38L97.70,196.50L97.97,195.97L98.25,195.43L98.53,194.92L98.82,194.50L99.11,194.21L99.40,194.10L99.70,194.21L100.01,194.52L100.32,194.97L100.63,195.49L100.92,196.02L101.20,196.50L101.47,196.98L101.73,197.48L101.97,197.99L102.21,198.52L102.45,199.05L102.70,199.60L102.99,200.24L103.27,200.92L103.56,201.61L103.86,202.30L104.17,202.97L104.50,203.60L104.82,204.15L105.15,204.69L105.48,205.21L105.84,205.71L106.21,206.17L106.60,206.60L106.95,206.95L107.31,207.28L107.68,207.58L108.07,207.85L108.51,208.10L109.00,208.30L109.82,208.49L110.76,208.55L111.78,208.55L112.85,208.53L113.94,208.57L115.00,208.70L116.21,209.00L117.45,209.39L118.70,209.84L119.97,210.32L121.24,210.79L122.50,211.20L123.72,211.56L124.90,211.90L126.08,212.22L127.30,212.54L128.60,212.87L130.00,213.20L132.20,213.70L134.61,214.22L137.17,214.74L139.80,215.26L142.43,215.75L145.00,216.20L147.53,216.60L150.10,216.96L152.68,217.29L155.22,217.62L157.71,217.95L160.10,218.30L162.08,218.63L163.98,218.96L165.84,219.31L167.69,219.65L169.56,219.98L171.50,220.30L173.65,220.63L175.81,220.96L178.01,221.28L180.26,221.59L182.58,221.90L185.00,222.20L188.12,222.57L191.41,222.95L194.82,223.32L198.26,223.67L201.68,224.00L205.00,224.30L208.06,224.55L211.09,224.77L214.09,224.97L217.07,225.15L220.04,225.32L223.00,225.50L225.87,225.66L228.74,225.79L231.60,225.91L234.43,226.05L237.24,226.21L240.00,226.40L242.56,226.63L245.07,226.91L247.56,227.20L250.03,227.50L252.51,227.77L255.00,228.00L257.47,228.18L259.92,228.33L262.36,228.46L264.84,228.58L267.37,228.69L270.00,228.80L273.17,228.93L276.45,229.06L279.82,229.18L283.23,229.30L286.63,229.40L290.00,229.50L293.37,229.59L296.77,229.67L300.18,229.74L303.55,229.80L306.83,229.85L310.00,229.90L312.64,229.94L315.22,229.98L317.73,230.01L320.19,230.03L322.61,230.03L325.00,230.00L327.08,229.95L329.09,229.88L331.05,229.79L333.03,229.69L335.06,229.56L337.20,229.40L339.89,229.18L342.69,228.93L345.57,228.65L348.50,228.33L351.42,227.98L354.30,227.60L357.24,227.16L360.26,226.67L363.28,226.14L366.22,225.61L368.98,225.08L371.50,224.60L373.07,224.31L374.50,224.05L375.84,223.80L377.17,223.53L378.53,223.21L380.00,222.80L382.01,222.15L384.13,221.40L386.31,220.55L388.53,219.65L390.74,218.73L392.90,217.80L395.10,216.82L397.35,215.78L399.60,214.70L401.78,213.64L403.83,212.62L405.70,211.70L406.87,211.13L407.94,210.62L408.94,210.13L409.93,209.63L410.93,209.10L412.00,208.50L413.39,207.68L414.85,206.81L416.34,205.87L417.83,204.89L419.30,203.86L420.70,202.80L422.09,201.67L423.47,200.49L424.81,199.26L426.11,197.99L427.35,196.70L428.50,195.40L429.48,194.18L430.39,192.94L431.25,191.67L432.06,190.39L432.84,189.10L433.60,187.80L434.33,186.49L435.03,185.13L435.71,183.76L436.35,182.42L436.95,181.16L437.50,180.00L437.86,179.26L438.19,178.57L438.50,177.92L438.79,177.29L439.09,176.65L439.40,176.00L439.63,178.34L439.86,181.01L440.10,183.69L440.32,186.03L440.53,187.68L440.70,188.30L440.86,187.41L440.98,185.07L441.06,181.77L441.14,177.99L441.21,174.20L441.30,170.90L441.49,170.43L441.66,169.92L441.83,169.42L442.03,168.95L442.27,168.56L442.60,168.30L443.10,168.18L443.71,168.24L444.39,168.40L445.10,168.62L445.82,168.84L446.50,169.00L446.95,168.02L447.41,167.03L447.87,166.03L448.31,165.06L448.73,164.11L449.10,163.20L449.35,162.48L449.56,161.76L449.75,161.06L449.95,160.40L450.15,159.81L450.40,159.30L450.59,159.04L450.80,158.84L451.02,158.66L451.23,158.48L451.43,158.27L451.60,158.00L451.80,157.44L451.92,156.77L452.00,156.02L452.07,155.21L452.16,154.36L452.30,153.50L452.58,152.25L452.93,150.88L453.31,149.44L453.70,147.99L454.07,146.59L454.40,145.30L454.62,144.36L454.83,143.48L455.02,142.63L455.20,141.78L455.40,140.92L455.60,140.00L455.86,138.89L456.14,137.76L456.42,136.59L456.70,135.40L456.97,134.17L457.20,132.90L457.43,131.34L457.63,129.69L457.80,127.99L457.96,126.29L458.13,124.61L458.30,123.00L458.47,121.64L458.63,120.35L458.80,119.08L458.97,117.79L459.13,116.45L459.30,115.00L459.53,112.93L459.76,110.70L459.99,108.37L460.22,105.99L460.42,103.62L460.60,101.30L460.74,99.09L460.86,96.90L460.95,94.72L461.04,92.53L461.12,90.29L461.20,88.00L461.29,85.38L461.38,82.69L461.46,79.95L461.54,77.19L461.62,74.44L461.70,71.70" fill="none" stroke="#8c00d8" stroke-width="2.6" stroke-linejoin="round" stroke-linecap="round" />
</g>
<rect x="80.4" y="26.3" width="382.4" height="287.3" fill="none" stroke="#000" stroke-width="1.3"/>
<path d="M139.3,313.1v-5.8M139.3,26.8v5.8M198.1,313.1v-5.8M198.1,26.8v5.8M257.0,313.1v-5.8M257.0,26.8v5.8M315.8,313.1v-5.8M315.8,26.8v5.8M374.7,313.1v-5.8M374.7,26.8v5.8M433.6,313.1v-5.8M433.6,26.8v5.8" stroke="#888" stroke-width="1.1" fill="none"/>
<path d="M79.9,276.1h-3.3M463.3,276.1h3.3M79.9,254.2h-3.3M463.3,254.2h3.3M79.9,238.6h-3.3M463.3,238.6h3.3M79.9,226.6h-3.3M463.3,226.6h3.3M79.9,216.7h-3.3M463.3,216.7h3.3M79.9,208.4h-3.3M463.3,208.4h3.3M79.9,201.2h-3.3M463.3,201.2h3.3M79.9,194.8h-3.3M463.3,194.8h3.3M79.9,151.6h-3.3M463.3,151.6h3.3M79.9,129.7h-3.3M463.3,129.7h3.3M79.9,114.1h-3.3M463.3,114.1h3.3M79.9,102.1h-3.3M463.3,102.1h3.3M79.9,92.2h-3.3M463.3,92.2h3.3M79.9,83.9h-3.3M463.3,83.9h3.3M79.9,76.7h-3.3M463.3,76.7h3.3M79.9,70.3h-3.3M463.3,70.3h3.3M79.9,27.1h-3.3M463.3,27.1h3.3" stroke="#555" stroke-width="1" fill="none"/>
<path d="M80.4,189.1h6M462.8,189.1h-6M80.4,64.6h6M462.8,64.6h-6" stroke="#111" stroke-width="1" fill="none"/>
<text x="71.7" y="70.5" font-size="17.5" font-weight="bold" text-anchor="end" fill="#000" letter-spacing="0.4" dx="0.4">1000</text>
<text x="71.7" y="195.0" font-size="17.5" font-weight="bold" text-anchor="end" fill="#000" letter-spacing="0.4" dx="0.4">100</text>
<text x="71.7" y="319.5" font-size="17.5" font-weight="bold" text-anchor="end" fill="#000" letter-spacing="0.4" dx="0.4">10</text>
<text x="80.4" y="335" font-size="17.5" font-weight="bold" text-anchor="middle" fill="#000" >0</text>
<text x="139.3" y="335" font-size="17.5" font-weight="bold" text-anchor="middle" fill="#000" >2</text>
<text x="198.1" y="335" font-size="17.5" font-weight="bold" text-anchor="middle" fill="#000" >4</text>
<text x="257.0" y="335" font-size="17.5" font-weight="bold" text-anchor="middle" fill="#000" >6</text>
<text x="315.8" y="335" font-size="17.5" font-weight="bold" text-anchor="middle" fill="#000" >8</text>
<text x="374.7" y="335" font-size="17.5" font-weight="bold" text-anchor="middle" fill="#000" >10</text>
<text x="433.6" y="335" font-size="17.5" font-weight="bold" text-anchor="middle" fill="#000" >12</text>
<text x="211.6" y="361" font-size="17.5" font-weight="bold" text-anchor="start" fill="#000" letter-spacing="0.3" >z - axis [m<tspan dx="2">m</tspan><tspan dx="1">]</tspan></text>
<text x="17.8" y="172" font-size="17.5" font-weight="bold" text-anchor="middle" fill="#000" letter-spacing="0.35" transform="rotate(-90 17.8 172)">Reduced electric field [ Td ]</text>
<text x="88.5" y="48" font-size="17.5" font-weight="bold" text-anchor="start" fill="#000" letter-spacing="0.8" >(a)</text>
<text x="341.2" y="18" font-size="17.5" font-weight="bold" letter-spacing="0.35">H<tspan font-size="12" dy="4">2</tspan><tspan dy="-4">O (2%) / Air</tspan></text>
<text x="94" y="71.2" font-size="14" font-weight="bold" text-anchor="start" fill="#000" >5.0 ns</text>
<text x="151" y="71.5" font-size="14" font-weight="bold" text-anchor="start" fill="#000" >7.5</text>
<text x="197" y="71.2" font-size="14" font-weight="bold" text-anchor="start" fill="#000" >10.0</text>
<text x="250" y="71.2" font-size="14" font-weight="bold" text-anchor="start" fill="#000" >12.5</text>
<text x="309" y="70.2" font-size="14" font-weight="bold" text-anchor="start" fill="#000" >15.0</text>
<text x="375.5" y="71" font-size="14" font-weight="bold" text-anchor="start" fill="#000" >17.5</text>
<text x="427" y="98.5" font-size="14" font-weight="bold" text-anchor="start" fill="#000" >19.1</text>
<g clip-path="url(#cb)">
<path d="M67.80,446.10L67.90,446.60L67.99,447.11L68.07,447.62L68.17,448.12L68.31,448.62L68.50,449.10L68.76,449.62L69.07,450.15L69.41,450.66L69.80,451.15L70.23,451.60L70.70,452.00L71.29,452.38L71.95,452.69L72.66,452.95L73.42,453.18L74.20,453.39L75.00,453.60L75.99,453.83L77.02,454.03L78.10,454.20L79.21,454.34L80.35,454.48L81.50,454.60L82.76,454.73L83.96,454.83L85.19,454.91L86.55,454.98L88.12,455.04L90.00,455.10L96.92,455.18L106.17,455.15L116.94,455.06L128.39,454.94L139.69,454.84L150.00,454.80L158.60,454.82L167.00,454.86L175.28,454.92L183.50,454.98L191.72,455.04L200.00,455.10L208.33,455.15L216.67,455.19L225.00,455.24L233.33,455.29L241.67,455.34L250.00,455.40L258.73,455.47L267.93,455.55L277.14,455.63L285.87,455.71L293.65,455.81L300.00,455.90L302.55,455.94L304.85,455.97L306.92,456.00L308.78,456.05L310.47,456.11L312.00,456.20L312.81,456.26L313.54,456.32L314.21,456.38L314.83,456.46L315.42,456.57L316.00,456.70L316.45,456.82L316.89,456.96L317.30,457.10L317.70,457.27L318.06,457.47L318.40,457.70L318.69,457.95L318.96,458.22L319.20,458.52L319.42,458.85L319.62,459.21L319.80,459.60L320.02,460.20L320.18,460.87L320.31,461.60L320.41,462.38L320.51,463.22L320.60,464.10L320.72,465.52L320.79,467.05L320.84,468.70L320.88,470.47L320.93,472.37L321.00,474.40L321.16,478.01L321.36,482.11L321.57,486.53L321.81,491.10L322.05,495.68L322.30,500.10L322.56,504.40L322.85,508.70L323.14,513.00L323.44,517.30L323.73,521.60L324.00,525.90L324.24,530.35L324.47,534.97L324.69,539.60L324.91,544.05L325.14,548.14L325.40,551.70L325.57,553.52L325.73,555.13L325.90,556.60L326.09,558.03L326.28,559.50L326.50,561.10L326.78,563.15L327.09,565.28L327.42,567.47L327.77,569.69L328.13,571.91L328.50,574.10L328.87,576.28L329.25,578.48L329.64,580.68L330.05,582.86L330.50,585.01L331.00,587.10L331.51,589.00L332.06,590.87L332.64,592.71L333.24,594.52L333.87,596.32L334.50,598.10L335.12,599.82L335.75,601.53L336.41,603.23L337.08,604.89L337.77,606.52L338.50,608.10L339.19,609.51L339.89,610.89L340.61,612.24L341.36,613.55L342.16,614.84L343.00,616.10L343.91,617.35L344.87,618.58L345.87,619.78L346.90,620.94L347.95,622.05L349.00,623.10L349.97,624.00L350.95,624.85L351.95,625.67L352.96,626.44L353.98,627.18L355.00,627.90L355.97,628.54L356.93,629.14L357.90,629.71L358.89,630.27L359.92,630.83L361.00,631.40L362.38,632.11L363.85,632.82L365.37,633.53L366.92,634.24L368.47,634.93L370.00,635.60L371.48,636.23L372.96,636.84L374.43,637.44L375.92,638.02L377.44,638.61L379.00,639.20L380.77,639.87L382.59,640.55L384.45,641.23L386.32,641.89L388.18,642.52L390.00,643.10L391.70,643.60L393.41,644.07L395.10,644.51L396.77,644.92L398.41,645.32L400.00,645.70L401.33,646.02L402.61,646.32L403.87,646.60L405.12,646.87L406.39,647.14L407.70,647.40L409.17,647.68L410.68,647.95L412.21,648.21L413.74,648.46L415.24,648.69L416.70,648.90L417.98,649.06L419.25,649.21L420.50,649.34L421.71,649.46L422.88,649.58L424.00,649.70L424.84,649.80L425.64,649.90L426.41,650.00L427.17,650.10L427.93,650.20L428.70,650.30L429.28,650.72L429.87,651.14L430.45,651.57L431.04,651.99L431.62,652.40L432.20,652.80L432.76,653.19L433.33,653.59L433.90,653.99L434.46,654.36L435.00,654.67L435.50,654.90L435.81,655.01L436.09,655.08L436.36,655.13L436.64,655.16L436.95,655.18L437.30,655.20L438.01,655.21L438.84,655.17L439.74,655.10L440.67,655.01L441.61,654.91L442.50,654.80L443.39,654.67L444.31,654.52L445.24,654.35L446.12,654.18L446.92,654.03L447.60,653.90L447.92,653.84L448.20,653.79L448.46,653.74L448.70,653.69L448.94,653.65L449.20,653.60" fill="none" stroke="#ff0000" stroke-width="2.5" stroke-linejoin="round" stroke-linecap="butt" stroke-dasharray="5.5 2.6" stroke-dashoffset="0"/>
<path d="M67.60,388.00L67.63,393.42L67.65,398.94L67.68,404.47L67.71,409.89L67.75,415.10L67.80,420.00L67.85,423.70L67.90,427.31L67.95,430.79L68.02,434.09L68.10,437.18L68.20,440.00L68.27,441.74L68.34,443.36L68.41,444.89L68.51,446.33L68.63,447.70L68.80,449.00L68.95,449.93L69.10,450.79L69.27,451.61L69.47,452.41L69.71,453.20L70.00,454.00L70.37,454.88L70.80,455.79L71.28,456.69L71.79,457.55L72.33,458.33L72.90,459.00L73.36,459.45L73.84,459.83L74.33,460.16L74.85,460.46L75.41,460.74L76.00,461.00L76.82,461.30L77.72,461.54L78.67,461.75L79.64,461.94L80.59,462.12L81.50,462.30L82.27,462.47L83.00,462.62L83.73,462.77L84.46,462.91L85.21,463.06L86.00,463.20L86.97,463.38L87.96,463.56L88.99,463.75L90.04,463.92L91.11,464.07L92.20,464.20L93.37,464.30L94.48,464.37L95.62,464.42L96.86,464.45L98.30,464.47L100.00,464.50L105.82,464.53L113.45,464.50L122.29,464.42L131.73,464.33L141.16,464.24L150.00,464.20L158.33,464.19L166.67,464.20L175.00,464.21L183.33,464.24L191.67,464.27L200.00,464.30L208.33,464.33L216.67,464.37L225.00,464.41L233.33,464.46L241.67,464.52L250.00,464.60L258.90,464.69L268.46,464.79L278.03,464.91L286.93,465.03L294.48,465.16L300.00,465.30L301.35,465.35L302.47,465.39L303.43,465.44L304.29,465.49L305.13,465.54L306.00,465.60L306.77,465.65L307.53,465.68L308.27,465.72L308.98,465.78L309.66,465.87L310.30,466.00L310.81,466.14L311.29,466.30L311.75,466.48L312.19,466.69L312.61,466.93L313.00,467.20L313.36,467.51L313.68,467.85L313.98,468.21L314.26,468.61L314.53,469.04L314.80,469.50L315.13,470.14L315.43,470.83L315.72,471.57L315.99,472.35L316.25,473.16L316.50,474.00L316.79,475.06L317.05,476.16L317.29,477.31L317.52,478.53L317.75,479.82L318.00,481.20L318.38,483.42L318.77,485.87L319.17,488.48L319.56,491.20L319.94,493.96L320.30,496.70L320.66,499.70L321.00,502.74L321.32,505.84L321.63,508.99L321.96,512.21L322.30,515.50L322.71,519.46L323.14,523.68L323.58,527.99L324.02,532.20L324.46,536.13L324.90,539.60L325.18,541.62L325.45,543.50L325.72,545.26L326.00,546.91L326.29,548.49L326.60,550.00L326.85,551.08L327.10,552.06L327.36,552.99L327.63,553.92L327.91,554.91L328.20,556.00L328.62,557.69L329.08,559.53L329.55,561.47L330.03,563.46L330.51,565.46L331.00,567.40L331.48,569.34L331.97,571.30L332.46,573.26L332.96,575.20L333.47,577.09L334.00,578.90L334.48,580.41L334.96,581.87L335.46,583.30L335.97,584.69L336.48,586.05L337.00,587.40L337.48,588.61L337.95,589.80L338.43,590.96L338.93,592.11L339.45,593.25L340.00,594.40L340.60,595.59L341.23,596.77L341.88,597.95L342.56,599.12L343.27,600.27L344.00,601.40L344.76,602.52L345.55,603.62L346.37,604.71L347.22,605.77L348.09,606.81L349.00,607.80L349.94,608.74L350.92,609.63L351.92,610.50L352.95,611.34L353.98,612.17L355.00,613.00L355.97,613.80L356.93,614.57L357.89,615.34L358.88,616.10L359.91,616.85L361.00,617.60L362.38,618.49L363.84,619.38L365.36,620.26L366.91,621.13L368.47,621.98L370.00,622.80L371.48,623.57L372.95,624.32L374.43,625.04L375.92,625.75L377.44,626.47L379.00,627.20L380.77,628.02L382.59,628.86L384.45,629.69L386.32,630.52L388.18,631.33L390.00,632.10L391.67,632.79L393.31,633.44L394.94,634.07L396.58,634.70L398.26,635.34L400.00,636.00L402.10,636.80L404.34,637.65L406.62,638.52L408.86,639.35L410.98,640.13L412.90,640.80L414.10,641.21L415.22,641.60L416.29,641.96L417.31,642.28L418.31,642.56L419.30,642.80L420.12,642.97L420.92,643.11L421.69,643.22L422.46,643.30L423.23,643.36L424.00,643.40L424.75,643.40L425.51,643.36L426.26,643.30L427.00,643.23L427.75,643.16L428.50,643.10L429.00,643.52L429.51,643.95L430.01,644.37L430.51,644.79L431.01,645.20L431.50,645.60L431.94,645.95L432.37,646.29L432.79,646.62L433.21,646.94L433.65,647.27L434.10,647.60L434.60,647.99L435.09,648.40L435.60,648.81L436.13,649.19L436.69,649.53L437.30,649.80L438.08,650.02L438.95,650.18L439.86,650.28L440.78,650.31L441.67,650.28L442.50,650.20L443.18,650.04L443.85,649.78L444.49,649.48L445.12,649.18L445.72,648.94L446.30,648.80L446.73,648.78L447.13,648.81L447.53,648.87L447.92,648.96L448.31,649.04L448.70,649.10L448.79,650.89L448.88,652.66L448.98,654.42L449.07,656.21L449.14,658.06L449.20,660.00L449.24,662.49L449.25,665.11L449.24,667.81L449.22,670.55L449.21,673.30L449.20,676.00" fill="none" stroke="#0000d2" stroke-width="2.5" stroke-linejoin="round" stroke-linecap="round" />
</g>
<rect x="67.2" y="387.7" width="382.4" height="287.8" fill="none" stroke="#000" stroke-width="1.3"/>
<path d="M126.1,675.0v-5.8M126.1,388.2v5.8M184.9,675.0v-5.8M184.9,388.2v5.8M243.8,675.0v-5.8M243.8,388.2v5.8M302.6,675.0v-5.8M302.6,388.2v5.8M361.5,675.0v-5.8M361.5,388.2v5.8M420.4,675.0v-5.8M420.4,388.2v5.8" stroke="#888" stroke-width="1.1" fill="none"/>
<path d="M67.2,579.6h6.5M449.6,579.6h-6.5M67.2,483.6h6.5M449.6,483.6h-6.5" stroke="#444" stroke-width="1" fill="none"/>
<text x="58.5" y="394.5" font-size="17.5" font-weight="bold" text-anchor="end" fill="#000" letter-spacing="0.4" dx="0.4">150</text>
<text x="58.5" y="490.5" font-size="17.5" font-weight="bold" text-anchor="end" fill="#000" letter-spacing="0.4" dx="0.4">100</text>
<text x="58.5" y="586.5" font-size="17.5" font-weight="bold" text-anchor="end" fill="#000" letter-spacing="0.4" dx="0.4">50</text>
<text x="57.5" y="682" font-size="17.5" font-weight="bold" text-anchor="end" fill="#000" >0</text>
<text x="67.2" y="697" font-size="17.5" font-weight="bold" text-anchor="middle" fill="#000" >0</text>
<text x="126.1" y="697" font-size="17.5" font-weight="bold" text-anchor="middle" fill="#000" >2</text>
<text x="184.9" y="697" font-size="17.5" font-weight="bold" text-anchor="middle" fill="#000" >4</text>
<text x="243.8" y="697" font-size="17.5" font-weight="bold" text-anchor="middle" fill="#000" >6</text>
<text x="302.6" y="697" font-size="17.5" font-weight="bold" text-anchor="middle" fill="#000" >8</text>
<text x="361.5" y="697" font-size="17.5" font-weight="bold" text-anchor="middle" fill="#000" >10</text>
<text x="420.4" y="697" font-size="17.5" font-weight="bold" text-anchor="middle" fill="#000" >12</text>
<text x="198.7" y="723" font-size="17.5" font-weight="bold" text-anchor="start" fill="#000" letter-spacing="0.3" >z - axis [m<tspan dx="2">m</tspan><tspan dx="1">]</tspan></text>
<text x="17.8" y="532.9" font-size="17.5" font-weight="bold" text-anchor="middle" fill="#000" letter-spacing="0.35" transform="rotate(-90 17.8 532.9)">Reduced electric field [ Td ]</text>
<text x="75.2" y="411" font-size="17.5" font-weight="bold" text-anchor="start" fill="#000" letter-spacing="1.1" >(b)</text>
<text x="81" y="656.5" font-size="17.5" font-weight="bold" text-anchor="start" fill="#000" letter-spacing="0.4" >Time = 50 ns</text>
<rect x="75.5" y="563.5" width="149" height="59.5" fill="#fff" stroke="#000" stroke-width="1.2"/>
<line x1="82" y1="578.6" x2="119" y2="578.6" stroke="#ff0000" stroke-width="2.6" stroke-dasharray="5 3"/>
<line x1="82" y1="603" x2="119" y2="603" stroke="#0000d2" stroke-width="2.4"/>
<text x="121.3" y="585.5" font-size="17.5" fill="#ff0000" letter-spacing="0.45">H<tspan font-size="11.5" dy="4">2</tspan><tspan dy="-4">O = 2.0%</tspan></text>
<text x="121.3" y="609.5" font-size="17.5" fill="#0000d2" letter-spacing="0.45">H<tspan font-size="11.5" dy="4">2</tspan><tspan dy="-4">O = 0.1%</tspan></text>
<path d="M67.2,579.6h6.5" stroke="#000" stroke-width="1"/>
</svg></body></html>
